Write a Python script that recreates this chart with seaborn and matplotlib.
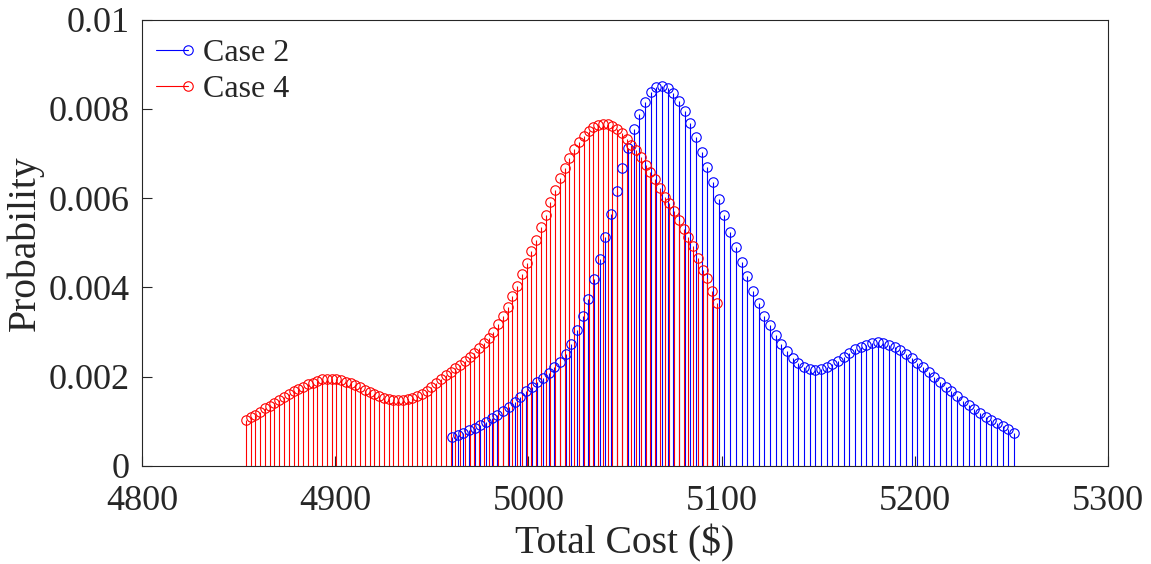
import numpy as np
import pandas as pd
import matplotlib
matplotlib.use("Agg")
import matplotlib.pyplot as plt
import seaborn as sns
from matplotlib.lines import Line2D
from matplotlib.legend_handler import HandlerBase
from matplotlib.ticker import FixedLocator, FixedFormatter

# ---------------- data ----------------
series_names = ["Case 2", "Case 4"]
series_colors = ["#0000ff", "#ff0000"]

# evaluation grid of each density estimate (100 evenly spaced points)
case2_cost_range = (4960.5, 5251.3)
case4_cost_range = (4853.8, 5097.6)
n_points = 100

# probabilities in units of 1e-3
case2_prob_e3 = [
    0.66, 0.70, 0.75, 0.80, 0.85, 0.91, 0.99, 1.07, 1.15, 1.24,
    1.33, 1.43, 1.55, 1.67, 1.78, 1.88, 1.98, 2.09, 2.21, 2.34,
    2.50, 2.74, 3.05, 3.36, 3.75, 4.19, 4.64, 5.13, 5.65, 6.16,
    6.68, 7.13, 7.54, 7.89, 8.16, 8.37, 8.49, 8.52, 8.47, 8.35,
    8.18, 7.96, 7.68, 7.36, 7.04, 6.69, 6.35, 5.97, 5.62, 5.25,
    4.90, 4.57, 4.25, 3.93, 3.64, 3.37, 3.15, 2.93, 2.74, 2.58,
    2.43, 2.31, 2.22, 2.17, 2.16, 2.18, 2.22, 2.28, 2.36, 2.44,
    2.53, 2.61, 2.67, 2.72, 2.76, 2.77, 2.76, 2.72, 2.66, 2.59,
    2.50, 2.41, 2.30, 2.21, 2.10, 1.99, 1.88, 1.78, 1.67, 1.56,
    1.45, 1.36, 1.27, 1.18, 1.10, 1.03, 0.96, 0.89, 0.82, 0.74,
]
case4_prob_e3 = [
    1.02, 1.09, 1.15, 1.22, 1.29, 1.35, 1.42, 1.48, 1.55, 1.61,
    1.67, 1.73, 1.78, 1.83, 1.87, 1.91, 1.94, 1.95, 1.95, 1.94,
    1.92, 1.89, 1.85, 1.81, 1.76, 1.71, 1.66, 1.61, 1.57, 1.52,
    1.50, 1.48, 1.47, 1.48, 1.50, 1.53, 1.57, 1.62, 1.68, 1.76,
    1.85, 1.94, 2.03, 2.11, 2.19, 2.27, 2.35, 2.44, 2.54, 2.64,
    2.75, 2.86, 3.00, 3.18, 3.37, 3.57, 3.80, 4.04, 4.29, 4.55,
    4.81, 5.07, 5.35, 5.62, 5.91, 6.18, 6.44, 6.68, 6.90, 7.09,
    7.26, 7.40, 7.51, 7.59, 7.64, 7.67, 7.66, 7.62, 7.55, 7.45,
    7.32, 7.20, 7.07, 6.91, 6.74, 6.58, 6.42, 6.23, 6.03, 5.88,
    5.70, 5.50, 5.31, 5.12, 4.93, 4.65, 4.40, 4.22, 3.93, 3.64,
]

x_ticks = [4800, 4900, 5000, 5100, 5200, 5300]
y_ticks = [0, 0.002, 0.004, 0.006, 0.008, 0.01]
y_tick_labels = ["0", "0.002", "0.004", "0.006", "0.008", "0.01"]
x_label = "Total Cost ($)"
y_label = "Probability"

# ---------------- build long-form table ----------------
frames = []
for name, rng, vals in zip(series_names,
                           [case2_cost_range, case4_cost_range],
                           [case2_prob_e3, case4_prob_e3]):
    frames.append(pd.DataFrame({
        "case": name,
        "cost": np.linspace(rng[0], rng[1], n_points),
        "prob": np.asarray(vals) * 1e-3,
    }))
df = pd.concat(frames, ignore_index=True)

# ---------------- figure ----------------
sns.set_theme(style="white")
plt.rcParams["font.family"] = ["Liberation Serif", "DejaVu Serif"]

fig = plt.figure(figsize=(11.51, 5.64), dpi=100)
W, H = 1151, 564
left, right, top, bottom = 142, 1108, 19.5, 466
ax = fig.add_axes([left / W, 1 - bottom / H, (right - left) / W, (bottom - top) / H])

for name, color in zip(series_names, series_colors):
    sub = df[df["case"] == name]
    ax.vlines(sub["cost"], 0, sub["prob"], colors=color, linewidth=0.8, zorder=2)
    sns.lineplot(data=sub, x="cost", y="prob", ax=ax, color=color,
                 linestyle="", marker="o", markersize=6.8,
                 markerfacecolor="none", markeredgecolor=color,
                 markeredgewidth=0.8, estimator=None, sort=False,
                 legend=False, zorder=3)

ax.set_xlim(x_ticks[0], x_ticks[-1])
ax.set_ylim(y_ticks[0], y_ticks[-1])
ax.xaxis.set_major_locator(FixedLocator(x_ticks))
ax.yaxis.set_major_locator(FixedLocator(y_ticks))
ax.yaxis.set_major_formatter(FixedFormatter(y_tick_labels))
ax.set_xticklabels([str(t) for t in x_ticks])

ax.tick_params(axis="both", direction="in", length=7, width=0.8,
               colors="#262626", labelsize=26, labelcolor="#262626",
               bottom=True, left=True, top=False, right=False)
ax.tick_params(axis="x", pad=14)
ax.tick_params(axis="y", pad=9)
for sp in ax.spines.values():
    sp.set_visible(True)
    sp.set_color("#262626")
    sp.set_linewidth(0.8)

ax.set_xlabel(x_label, fontsize=28.5, color="#262626", labelpad=4)
ax.set_ylabel(y_label, fontsize=28.5, color="#262626", labelpad=3)


class StemLegendHandler(HandlerBase):
    def create_artists(self, legend, orig_handle, xdescent, ydescent,
                       width, height, fontsize, trans):
        color = orig_handle.get_color()
        y = height / 2.0 - ydescent
        x0, x1 = -xdescent, width - xdescent
        line = Line2D([x0, x1], [y, y], color=color, linewidth=0.8)
        mk = Line2D([x1], [y], marker="o", markersize=6.8,
                    markerfacecolor="none", markeredgecolor=color,
                    markeredgewidth=0.8, linestyle="")
        line.set_transform(trans)
        mk.set_transform(trans)
        return [line, mk]


handles = [Line2D([], [], color=c) for c in series_colors]
ax.legend(handles, series_names, loc="upper left", bbox_to_anchor=(0.015, 0.957),
          frameon=False, fontsize=23, handlelength=1.0, handletextpad=0.45,
          labelspacing=0.2, borderpad=0, borderaxespad=0,
          handler_map={Line2D: StemLegendHandler()})

fig.savefig("out.png", dpi=100)
